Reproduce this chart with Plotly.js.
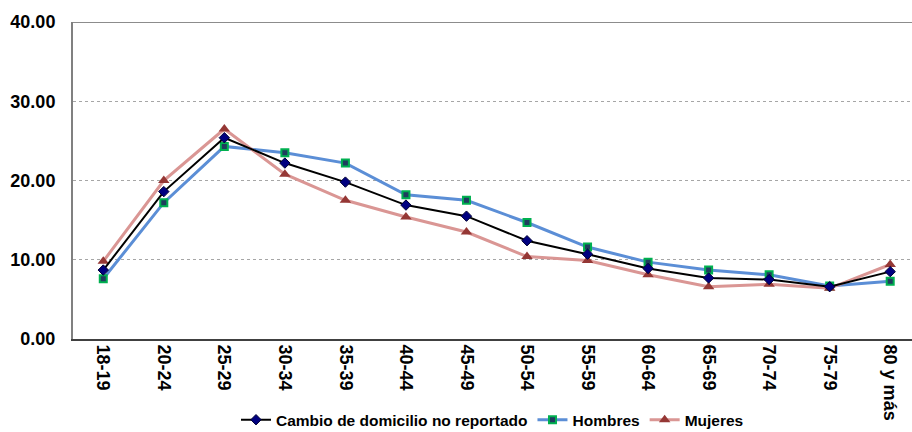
<!DOCTYPE html>
<html>
<head>
<meta charset="utf-8">
<script src="https://cdn.plot.ly/plotly-3.0.1.min.js"></script>
<style>html,body{margin:0;padding:0;overflow:hidden;background:#fff;}</style>
</head>
<body>
<div id="chart" style="width:912px;height:432px;"></div>
<script>
const categories = ["18-19","20-24","25-29","30-34","35-39","40-44","45-49","50-54","55-59","60-64","65-69","70-74","75-79","80 y más"];
const cambio  = [8.7, 18.6, 25.4, 22.2, 19.8, 16.9, 15.5, 12.4, 10.7, 8.9, 7.7, 7.5, 6.6, 8.5];
const hombres = [7.6, 17.2, 24.3, 23.5, 22.2, 18.2, 17.5, 14.7, 11.6, 9.7, 8.7, 8.1, 6.7, 7.3];
const mujeres = [9.8, 20.0, 26.5, 20.8, 17.5, 15.4, 13.5, 10.4, 9.9, 8.1, 6.6, 6.9, 6.4, 9.4];
const yTicks = [0, 10, 20, 30, 40];

const font = {family: "Liberation Sans, Arial, sans-serif", color: "#000"};

const traces = [
  {
    x: categories, y: hombres, name: "Hombres", type: "scatter", mode: "lines+markers",
    legendrank: 2,
    line: {color: "#5B8ED6", width: 3},
    marker: {symbol: "square", size: 7, color: "#1F3D5E", line: {color: "#00B050", width: 2}}
  },
  {
    x: categories, y: mujeres, name: "Mujeres", type: "scatter", mode: "lines+markers",
    legendrank: 3,
    line: {color: "#DA9694", width: 3},
    marker: {symbol: "triangle-up", size: 10, color: "#953735"}
  },
  {
    x: categories, y: cambio, name: "Cambio de domicilio no reportado", type: "scatter", mode: "lines+markers",
    legendrank: 1,
    line: {color: "#000000", width: 2},
    marker: {symbol: "diamond", size: 8, color: "#000080", line: {color: "#000033", width: 1}}
  }
];

const layout = {
  width: 912, height: 432,
  margin: {l: 73, r: 0, t: 22, b: 93, autoexpand: false},
  paper_bgcolor: "#fff", plot_bgcolor: "#fff",
  font: font,
  showlegend: true,
  legend: {
    orientation: "h", x: 0.5, xanchor: "center", y: -0.256, yanchor: "middle",
    font: {family: font.family, size: 15.5, color: "#000", weight: "bold"},
    bgcolor: "rgba(0,0,0,0)"
  },
  xaxis: {
    type: "category",
    range: [-0.5, 13.36],
    tickangle: 90,
    tickfont: {family: font.family, size: 18, color: "#000", weight: "bold"},
    showline: true, linecolor: "#404040", linewidth: 2,
    showgrid: false, ticks: "", zeroline: false,
    automargin: false
  },
  yaxis: {
    range: [0, 40],
    tickvals: yTicks,
    tickformat: ".2f",
    tickfont: {family: font.family, size: 18, color: "#000", weight: "bold"},
    showline: true, linecolor: "#808080", linewidth: 2,
    showgrid: true, gridcolor: "#A6A6A6", gridwidth: 1, griddash: "dot",
    zeroline: false, ticks: "",
    ticklabelstandoff: 12,
    automargin: false
  },
  shapes: [
    {type: "line", xref: "paper", yref: "y", x0: 0, x1: 1, y0: 40, y1: 40,
     line: {color: "#8C8C8C", width: 2}}
  ]
};

Plotly.newPlot("chart", traces, layout, {displayModeBar: false, staticPlot: true});
</script>
</body>
</html>
